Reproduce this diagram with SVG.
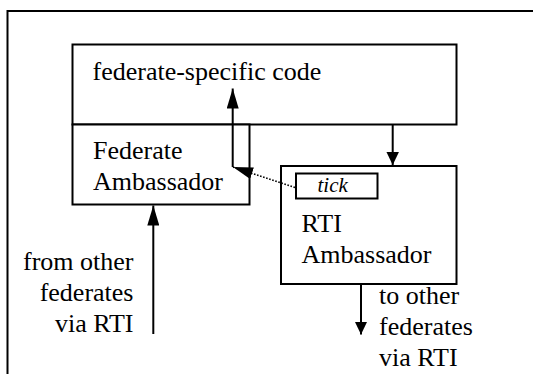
<svg xmlns="http://www.w3.org/2000/svg" width="533" height="374" viewBox="0 0 533 374">
  <style>
    .box { fill: #fff; stroke: #000; stroke-width: 2; }
    .frame { fill: none; stroke: #000; stroke-width: 2; }
    text { font-family: "Liberation Serif", serif; font-size: 26px; fill: #000; }
    .small { font-size: 21px; font-style: italic; }
    .end { text-anchor: end; }
    .wire { fill: none; stroke: #000; stroke-width: 2; }
    .dots { fill: none; stroke: #000; stroke-width: 1.6; stroke-dasharray: 1.6 1.6; }
  </style>
  <defs>
    <marker id="headLong" viewBox="0 0 20 12" refX="20" refY="6" markerWidth="20" markerHeight="12" markerUnits="userSpaceOnUse" orient="auto">
      <path d="M0,0 L20,6 L0,12 Z" fill="#000"/>
    </marker>
    <marker id="headShort" viewBox="0 0 13 12.5" refX="13" refY="6.25" markerWidth="13" markerHeight="12.5" markerUnits="userSpaceOnUse" orient="auto">
      <path d="M0,0 L13,6.25 L0,12.5 Z" fill="#000"/>
    </marker>
  </defs>

  <!-- surrounding frame, open to the right and bottom -->
  <path class="frame" d="M7.5,374 V11 H533"/>

  <g id="federate-code">
    <rect class="box" x="72.5" y="44.5" width="384" height="80"/>
    <text x="92.5" y="80" font-family="Liberation Serif" style="font-family:'Liberation Serif',serif">federate-specific code</text>
  </g>

  <g id="federate-ambassador">
    <rect class="box" x="72.5" y="124.5" width="177" height="80"/>
    <text x="93" y="159" font-family="Liberation Serif" style="font-family:'Liberation Serif',serif">Federate</text>
    <text x="93" y="190" font-family="Liberation Serif" style="font-family:'Liberation Serif',serif">Ambassador</text>
  </g>

  <g id="rti-ambassador">
    <rect class="box" x="281" y="166" width="175.5" height="118"/>
    <text x="301.5" y="231.5" font-family="Liberation Serif" style="font-family:'Liberation Serif',serif">RTI</text>
    <text x="301.5" y="263" font-family="Liberation Serif" style="font-family:'Liberation Serif',serif">Ambassador</text>
  </g>

  <g id="tick">
    <rect class="box" x="296" y="173.5" width="81.5" height="25"/>
    <text class="small" x="317.5" y="192" font-family="Liberation Serif" style="font-family:'Liberation Serif',serif">tick</text>
  </g>

  <g id="from-others">
    <text class="end" x="133.5" y="270" font-family="Liberation Serif" style="font-family:'Liberation Serif',serif">from other</text>
    <text class="end" x="133.5" y="301" font-family="Liberation Serif" style="font-family:'Liberation Serif',serif">federates</text>
    <text class="end" x="133.5" y="332" font-family="Liberation Serif" style="font-family:'Liberation Serif',serif">via RTI</text>
  </g>

  <g id="to-others">
    <text x="379" y="304" font-family="Liberation Serif" style="font-family:'Liberation Serif',serif">to other</text>
    <text x="379" y="335" font-family="Liberation Serif" style="font-family:'Liberation Serif',serif">federates</text>
    <text x="379" y="366" font-family="Liberation Serif" style="font-family:'Liberation Serif',serif">via RTI</text>
  </g>

  <g id="connectors">
    <!-- callback from tick up to federate code -->
    <line class="dots" x1="295" y1="187.5" x2="233" y2="167" marker-end="url(#headLong)"/>
    <line class="wire" x1="232.7" y1="167" x2="232.7" y2="88.5" marker-end="url(#headLong)"/>
    <!-- federate code calls RTI ambassador -->
    <line class="wire" x1="392.7" y1="124.5" x2="392.7" y2="165" marker-end="url(#headShort)"/>
    <!-- incoming from other federates -->
    <line class="wire" x1="153.3" y1="334" x2="153.3" y2="205.5" marker-end="url(#headLong)"/>
    <!-- outgoing to other federates -->
    <line class="wire" x1="361" y1="284" x2="361" y2="334.5" marker-end="url(#headShort)"/>
  </g>
</svg>
